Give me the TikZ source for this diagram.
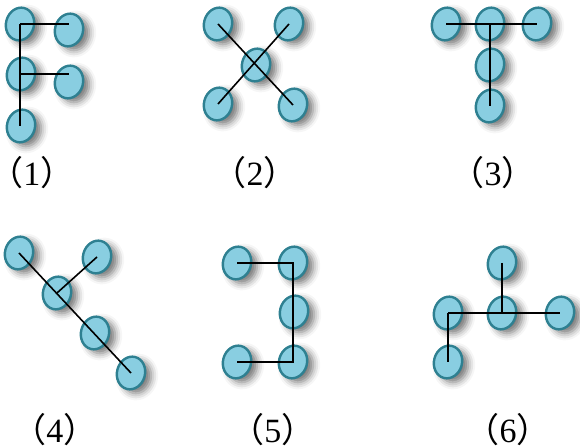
\documentclass[tikz,border=0pt]{standalone}
\usepackage{fontspec}
\setmainfont{Liberation Serif}
\newfontfamily\cjk{Noto Sans CJK SC}
\usetikzlibrary{shapes.geometric,shadows.blur}
\definecolor{bead}{HTML}{89CEE1}
\definecolor{rim}{HTML}{2E8091}
\newcommand\numtag[1]{\kern-.4em{\cjk （}#1{\cjk ）}\kern-.4em}

\begin{document}
\begin{tikzpicture}[x=.5pt,y=-.5pt,font=\fontsize{17}{19}\selectfont,
 ball/.style={ellipse,draw=rim,fill=bead,line width=1.2pt,minimum width=14pt,
  minimum height=16.5pt,inner sep=0pt,rotate=-15,
  blur shadow={shadow xshift=3pt,shadow yshift=-2pt,shadow blur radius=3.5pt,shadow opacity=55}},
 bond/.style={draw=black,line width=.8pt},
 tag/.style={inner sep=0pt}]
\path[use as bounding box] (0,0) rectangle (580,448);
% (1)
\node[ball] (f1a) at (20,24) {};
\node[ball] (f1b) at (69,30) {};
\node[ball] (f1c) at (21,74) {};
\node[ball] (f1d) at (69,82) {};
\node[ball] (f1e) at (21,126) {};
\draw[bond] (f1a.center) -- (f1a.center |- f1e.center);
\draw[bond] (f1a.center) -- (f1a.center -| f1b.center);
\draw[bond] (f1a.center |- f1c.center) -- (f1c.center -| f1d.center);
\node[tag] (t1) at (32,173) {\numtag{1}};
% (2)
\node[ball] (f2a) at (218,24) {};
\node[ball] (f2b) at (289,24) {};
\node[ball] (f2c) at (256,65) {};
\node[ball] (f2d) at (218,104) {};
\node[ball] (f2e) at (293,105) {};
\draw[bond] (f2a.center) -- (f2e.center);
\draw[bond] (f2b.center) -- (f2d.center);
\node[tag] (t2) at (255,173) {\numtag{2}};
% (3)
\node[ball] (f3a) at (446,24) {};
\node[ball] (f3b) at (490,24) {};
\node[ball] (f3c) at (537,24) {};
\node[ball] (f3d) at (490,65) {};
\node[ball] (f3e) at (490,106) {};
\draw[bond] (f3a.center) -- (f3c.center);
\draw[bond] (f3b.center) -- (f3e.center);
\node[tag] (t3) at (493,173) {\numtag{3}};
% (4)
\node[ball] (f4a) at (19,253) {};
\node[ball] (f4b) at (97,257) {};
\node[ball] (f4c) at (57,293) {};
\node[ball] (f4d) at (95,333) {};
\node[ball] (f4e) at (131,373) {};
\draw[bond] (f4a.center) -- (f4e.center);
\draw[bond] (f4c.center) -- (f4b.center);
\node[tag] (t4) at (55,430) {\numtag{4}};
% (5)
\node[ball] (f5a) at (237,263) {};
\node[ball] (f5b) at (293,263) {};
\node[ball] (f5c) at (294,312) {};
\node[ball] (f5d) at (237,362) {};
\node[ball] (f5e) at (293,362) {};
\draw[bond] (f5a.center) -- (f5b.center) -- (f5e.center) -- (f5d.center);
\node[tag] (t5) at (273,430) {\numtag{5}};
% (6)
\node[ball] (f6a) at (502,263) {};
\node[ball] (f6b) at (448,313) {};
\node[ball] (f6c) at (502,313) {};
\node[ball] (f6d) at (560,313) {};
\node[ball] (f6e) at (448,362) {};
\draw[bond] (f6a.center) -- (f6c.center);
\draw[bond] (f6b.center) -- (f6d.center);
\draw[bond] (f6b.center) -- (f6e.center);
\node[tag] (t6) at (508,430) {\numtag{6}};
\end{tikzpicture}
\end{document}
